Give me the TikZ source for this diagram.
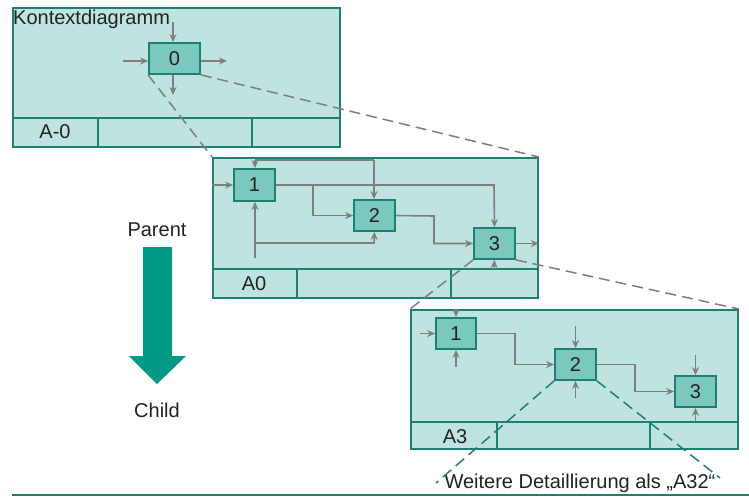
\documentclass[tikz,border=0pt]{standalone}
\usepackage{fontspec}
\setmainfont{Liberation Sans}
\usetikzlibrary{arrows.meta}
\definecolor{framefill}{HTML}{BFE4E0}
\definecolor{boxfill}{HTML}{7BC8BF}
\definecolor{tealdark}{HTML}{1E7F72}
\definecolor{arrowteal}{HTML}{009985}
\definecolor{flowgray}{HTML}{7F7F7F}
\definecolor{txt}{HTML}{222222}
\tikzset{
  frame/.style={draw=tealdark, fill=framefill, line width=1.8pt},
  strip/.style={draw=tealdark, line width=1.8pt},
  actbox/.style={draw=tealdark, fill=boxfill, line width=1.8pt, text=txt, font=\fontsize{20}{22}\selectfont, inner sep=0pt},
  flow/.style={draw=flowgray, line width=1.6pt, -{Stealth[length=8pt,width=7pt]}},
  plain/.style={draw=flowgray, line width=1.6pt},
  grdash/.style={draw=flowgray, line width=1.5pt, dash pattern=on 11pt off 6pt},
  tdash/.style={draw=tealdark, line width=1.5pt, dash pattern=on 11pt off 6pt},
  lbl/.style={text=txt, font=\fontsize{20}{22}\selectfont, inner sep=0pt}
}
\begin{document}
\begin{tikzpicture}[x=1pt,y=-1pt]
\useasboundingbox (0,0) rectangle (749,496);
% ---------- Frame 1 ----------
\node[frame, minimum width=327pt, minimum height=139pt, anchor=north west, inner sep=0pt] (f1) at (12,7) {};
\draw[strip] (12,118) -- (339,118) (98,118) -- (98,146) (252,118) -- (252,146);
\node[lbl] (la0) at (55,132) {A-0};
\node[lbl, anchor=north west] (kt) at (13,10) {Kontextdiagramm};
\node[actbox, minimum width=51pt, minimum height=31pt] (b0) at (174.5,58.5) {0};
\coordinate (b0t) at (173,22);
\coordinate (b0l) at (123,61);
\coordinate (b0r) at (227,61);
\coordinate (b0d) at (173,95);
\draw[flow] (b0t) -- (b0t |- b0.north);
\draw[flow] (b0l) -- (b0l -| b0.west);
\draw[flow] (b0r -| b0.east) -- (b0r);
\draw[flow] (b0d |- b0.south) -- (b0d);
% ---------- Frame 2 ----------
\node[frame, minimum width=325pt, minimum height=140pt, anchor=north west, inner sep=0pt] (f2) at (212,157) {};
\draw[strip] (212,269) -- (537,269) (297,269) -- (297,297) (451,269) -- (451,297);
\node[lbl] (la1) at (254,284) {A0};
% dashed links frame1 -> frame2
\draw[grdash] (b0.south west) -- (f2.north west);
\draw[grdash] (b0.south east) -- (f2.north east);
\node[actbox, minimum width=41pt, minimum height=32pt] (c1) at (254.5,185) {1};
\node[actbox, minimum width=41pt, minimum height=31pt] (c2) at (374.5,215.5) {2};
\node[actbox, minimum width=41pt, minimum height=31pt] (c3) at (494.5,243.5) {3};
\coordinate (tl) at (255,160);
\coordinate (tr) at (374,160);
\draw[plain] (tl) -- (tr);
\draw[flow] (tl) -- (tl |- c1.north);
\draw[flow] (tr) -- (tr |- c2.north);
\draw[flow] (f2.west |- c1.west) -- (c1.west);
\draw[flow] (c1.east) -- (313,185) |- (c2.west);
\draw[flow] (313,185) -- (494,185) -- (c3.north);
\draw[flow] (c2.east) -- (434,216) |- (c3.west);
\draw[flow] (c3.east) -- (f2.east |- c3.east);
\coordinate (bl) at (255,258);
\draw[flow] (bl) -- (bl |- c1.south);
\draw[flow] (255,243) -- (374,243) -- (c2.south);
\draw[flow] (494,269) -- (c3.south);
% ---------- Frame 3 ----------
\node[frame, minimum width=327pt, minimum height=139pt, anchor=north west, inner sep=0pt] (f3) at (410,309) {};
\draw[strip] (410,422) -- (737,422) (497,422) -- (497,448) (650,422) -- (650,448);
\node[lbl] (la3) at (455,437) {A3};
\draw[grdash] (c3.south west) -- (f3.north west);
\draw[grdash] (c3.south east) -- (f3.north east);
\node[actbox, minimum width=40pt, minimum height=31pt] (d1) at (456,333.5) {1};
\node[actbox, minimum width=41pt, minimum height=31pt] (d2) at (575.5,364.5) {2};
\node[actbox, minimum width=41pt, minimum height=31pt] (d3) at (695.5,391.5) {3};
\draw[flow] (456,309) -- (d1.north);
\draw[flow] (420,333.5) -- (d1.west);
\draw[flow] (456,367) -- (d1.south);
\draw[flow] (d1.east) -- (515,333.5) |- (d2.west);
\draw[flow] (575.5,326) -- (d2.north);
\draw[flow] (575.5,398) -- (d2.south);
\draw[flow] (d2.east) -- (635,364.5) |- (d3.west);
\draw[flow] (695.5,355) -- (d3.north);
\draw[flow] (695.5,422) -- (d3.south);
% detail lines and text
\node[lbl, anchor=center] (wd) at (580,483) {Weitere Detaillierung als „A32“};
\coordinate (wl) at (436,483);
\coordinate (wr) at (720,478);
\draw[tdash] (d2.south west) -- (wl);
\draw[tdash] (d2.south east) -- (wr);
\draw[draw=tealdark, line width=1.4pt] (12,495) -- (749,495);
% ---------- Parent/Child arrow ----------
\node[lbl] (par) at (157,230) {Parent};
\node[lbl] (chi) at (157,410) {Child};
\fill[arrowteal] (143,247) -- (172,247) -- (172,356) -- (186,356) -- (157,384) -- (129,356) -- (143,356) -- cycle;
\end{tikzpicture}
\end{document}
